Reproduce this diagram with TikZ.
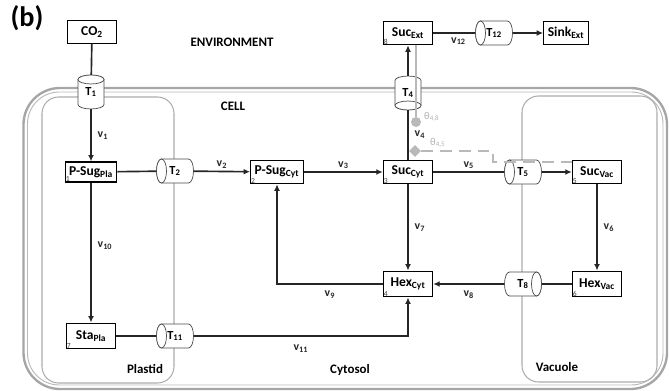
\documentclass[tikz,border=0pt]{standalone}
\usepackage{fontspec}
\setmainfont{Carlito}
\usetikzlibrary{shapes.geometric,arrows.meta,calc}
\newcommand\sbs[1]{\textsubscript{#1}}
% horizontal transporter: name, x, y, label, face side (-1 left, 1 right)
\newcommand\hcyl[5]{%
  \coordinate (#1-c) at (#2,#3);
  \filldraw[cylline] ($(#1-c)+(-13.5,-12)$) -- ($(#1-c)+(13.5,-12)$)
     arc[start angle=90,end angle=-90,x radius=4.25pt,y radius=10.2pt]
     -- ($(#1-c)+(-13.5,12)$)
     arc[start angle=270,end angle=90,x radius=4.25pt,y radius=10.2pt] -- cycle;
  \draw[cylline] ($(#1-c)+(#5*13.5,0)$) ellipse[x radius=4.25pt,y radius=10.2pt];
  \node[cylnode, minimum width=31.5pt, minimum height=20.4pt] (#1) at (#1-c) {#4};
}
% vertical transporter: name, x, y, label, face side (-1 top, 1 bottom)
\newcommand\vcyl[5]{%
  \coordinate (#1-c) at (#2,#3);
  \filldraw[cylline] ($(#1-c)+(-13,-12.5)$) -- ($(#1-c)+(-13,12.5)$)
     arc[start angle=180,end angle=360,x radius=11.05pt,y radius=3.8pt]
     -- ($(#1-c)+(13,-12.5)$)
     arc[start angle=0,end angle=180,x radius=11.05pt,y radius=3.8pt] -- cycle;
  \draw[cylline] ($(#1-c)+(0,#5*12.5)$) ellipse[x radius=11.05pt,y radius=3.8pt];
  \node[cylnode, minimum width=22.1pt, minimum height=28.9pt] (#1) at (#1-c) {#4};
}
\begin{document}
\begin{tikzpicture}[x=0.85pt,y=-0.85pt,
  box/.style={draw, line width=0.9pt, fill=white, minimum width=42pt, minimum height=20pt, inner sep=1pt, font=\bfseries\fontsize{11.5}{12}\selectfont},
  num/.style={label={[font=\fontsize{6.5}{6.5}\selectfont, text=black!75, anchor=south west, inner sep=0.8pt]south west:#1}},
  cylline/.style={draw=black!70, line width=0.6pt, fill=white},
  cylnode/.style={rectangle, inner sep=0pt, font=\bfseries\fontsize{10.5}{11}\selectfont},
  ln/.style={line width=1.4pt, black!85},
  arr/.style={ln, -{Latex[length=5.5pt,width=5pt]}},
  lab/.style={font=\bfseries\fontsize{10}{11}\selectfont, inner sep=2pt},
  region/.style={font=\bfseries\fontsize{11}{12}\selectfont},
  gline/.style={line width=1.3pt, gray!55},
  dline/.style={line width=1.6pt, gray!55, dash pattern=on 10pt off 6pt},
  theta/.style={font=\fontsize{9}{10}\selectfont, text=gray!60, inner sep=0pt}
]
\useasboundingbox (0,0) rectangle (669,391);
% cell membrane
\draw[line width=2pt, gray!70] (23.5,88) [rounded corners=31pt] rectangle (667,389);
\draw[line width=0.8pt, gray!55] (27.5,92) [rounded corners=27pt] rectangle (663,385);
% organelles
\draw[line width=0.9pt, gray!65] (42,97) [rounded corners=14pt] rectangle (174,383);
\draw[line width=0.9pt, gray!65] (522,96) [rounded corners=14pt] rectangle (657,382);

\node[font=\bfseries\fontsize{24}{24}\selectfont] (b) at (27,18) {(b)};
\node[region] (env) at (232,42) {ENVIRONMENT};
\node[region] (cell) at (233,106) {CELL};
\node[region] (plastid) at (145,369) {Plastid};
\node[region] (cytosol) at (350,370) {Cytosol};
\node[region] (vacuole) at (557,367) {Vacuole};

% metabolite boxes
\node[box, minimum height=19pt] (co2) at (92,32) {CO\sbs{2}};
\node[box, minimum width=44pt, minimum height=17pt, num=1] (psp) at (91,172) {P-Sug\sbs{Pla}};
\node[box, minimum width=45pt, num=2] (psc) at (277,172) {P-Sug\sbs{Cyt}};
\node[box, num=3] (succ) at (408,172) {Suc\sbs{Cyt}};
\node[box, num=8] (sucx) at (408,33) {Suc\sbs{Ext}};
\node[box, minimum width=38pt] (sink) at (566,33) {Sink\sbs{Ext}};
\node[box, num=5] (sucv) at (597,172) {Suc\sbs{Vac}};
\node[box, minimum height=22pt, num=6] (hexv) at (597,284) {Hex\sbs{Vac}};
\node[box, minimum height=22pt, num=4] (hexc) at (408,284) {Hex\sbs{Cyt}};
\node[box, minimum height=22pt, num=7] (stap) at (91,336) {Sta\sbs{Pla}};

% transporters
\vcyl{t1}{91}{92}{T\sbs{1}}{-1}
\vcyl{t4}{408}{93}{T\sbs{4}}{1}
\hcyl{t2}{175}{171}{T\sbs{2}}{-1}
\hcyl{t12}{494}{33}{T\sbs{12}}{-1}
\hcyl{t5}{523}{172}{T\sbs{5}}{-1}
\hcyl{t8}{523}{284}{T\sbs{8}}{1}
\hcyl{t11}{175}{336}{T\sbs{11}}{-1}

% fluxes
\draw[ln] (co2) -- (t1);
\draw[arr] (t1) -- (psp) node[lab, midway, right=3pt] {v\sbs{1}};
\draw[ln] (psp) -- (t2);
\draw[arr] (t2) -- (psc) node[lab, midway, above] {v\sbs{2}};
\draw[arr] (psc) -- (succ) node[lab, midway, above] {v\sbs{3}};
\draw[ln] (succ) -- (t4) node[lab, midway, right=3pt] {v\sbs{4}};
\draw[arr] (t4) -- (sucx);
\draw[ln] (sucx) -- (t12) node[lab, pos=0.6, below=1pt] {v\sbs{12}};
\draw[arr] (t12) -- (sink);
\draw[ln] (succ) -- (t5) node[lab, midway, above] {v\sbs{5}};
\draw[arr] (t5) -- (sucv);
\draw[arr] (sucv) -- (hexv) node[lab, midway, right=3pt] {v\sbs{6}};
\draw[arr] (succ) -- (hexc) node[lab, midway, right=3pt] {v\sbs{7}};
\draw[ln] (hexv) -- (t8);
\draw[arr] (t8) -- (hexc) node[lab, midway, below=3pt] {v\sbs{8}};
\draw[arr] (hexc) -| (psc) node[lab, pos=0.25, below=3pt] {v\sbs{9}};
\draw[arr] (psp) -- (stap) node[lab, pos=0.45, right=3pt] {v\sbs{10}};
\draw[ln] (stap) -- (t11);
\draw[arr] (t11) -| (hexc) node[lab, pos=0.25, below=5pt] {v\sbs{11}};

% regulation
\node[circle, fill=gray!55, minimum size=8.5pt, inner sep=0pt] (c48) at (416,122) {};
\draw[gline] (sucx.south -| c48) -- (c48);
\node[theta, anchor=west] (th48) at (424,117) {θ\sbs{4,8}};
\node[diamond, fill=gray!55, minimum size=10pt, inner sep=0pt] (d45) at (415,151) {};
\coordinate (k1) at (493,151);
\coordinate (k2) at (493,162);
\coordinate (k3) at (572,162);
\draw[dline] (d45) -- (k1) -- (k2) -- (k3);
\node[theta, anchor=west] (th45) at (430,143) {θ\sbs{4,5}};
\end{tikzpicture}
\end{document}
